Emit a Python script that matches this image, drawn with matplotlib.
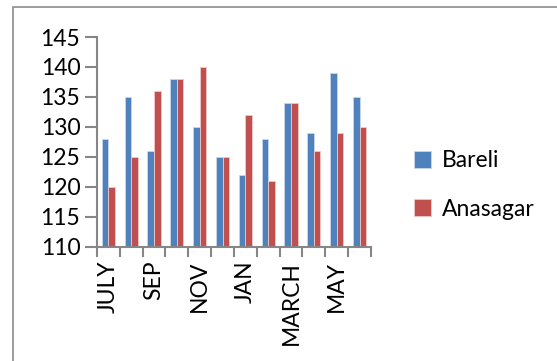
import numpy as np
import matplotlib.pyplot as plt
from matplotlib.patches import Rectangle

months = ['JULY', 'AUG', 'SEP', 'OCT', 'NOV', 'DEC',
          'JAN', 'FEB', 'MARCH', 'APR', 'MAY', 'JUNE']
bareli = [128, 135, 126, 138, 130, 125, 122, 128, 134, 129, 139, 135]
anasagar = [120, 125, 136, 138, 140, 125, 132, 121, 134, 126, 129, 130]

plt.rcParams['font.family'] = ['Lato', 'DejaVu Sans']

fig = plt.figure(figsize=(5.57, 3.61), dpi=100)
ax = fig.add_axes([0.174, 0.316, 0.492, 0.5815])

# outer chart frame (cut off at right and bottom)
fig.patches.append(Rectangle((13 / 557, -0.05), 1.0, 1 - 7 / 361 + 0.05,
                             transform=fig.transFigure, fill=False,
                             edgecolor='#8c8c8c', linewidth=1.2))

x = np.arange(len(months))
w = 0.29
ax.bar(x - w / 2, bareli, width=w, color='#4F81BD', edgecolor='#c9d7ea',
       linewidth=0.6, label='Bareli')
ax.bar(x + w / 2, anasagar, width=w, color='#C0504D', edgecolor='#efc9c8',
       linewidth=0.6, label='Anasagar')

ax.set_ylim(110, 145)
ax.set_xlim(-0.5, len(months) - 0.5)
ax.set_yticks(np.arange(110, 146, 5))

ax.set_xticks(x[::2])
ax.set_xticklabels(months[::2], rotation=90)
ax.set_xticks(np.arange(-0.5, len(months), 1), minor=True)
ax.tick_params(axis='x', which='major', length=0, pad=10, labelsize=16.5)
ax.tick_params(axis='x', which='minor', length=7, width=1.5, color='#868686',
               direction='out')
ax.tick_params(axis='y', length=9, width=1.5, color='#868686', labelsize=16.5,
               pad=3)

for s in ['top', 'right']:
    ax.spines[s].set_visible(False)
for s in ['left', 'bottom']:
    ax.spines[s].set_color('#868686')
    ax.spines[s].set_linewidth(1.5)

ax.legend(loc='center left', bbox_to_anchor=(1.08, 0.295), frameon=False,
          fontsize=16.5, handlelength=0.75, handleheight=0.75,
          handletextpad=0.5, labelspacing=1.2)

fig.savefig('out.png', dpi=100)
